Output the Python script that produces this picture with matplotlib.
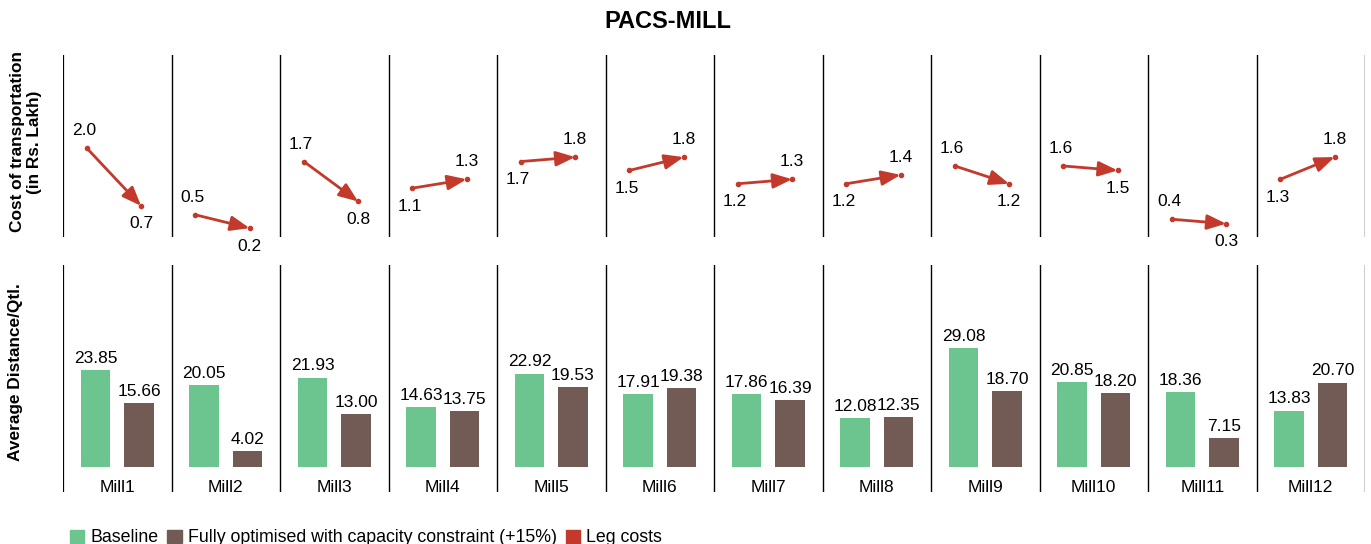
import matplotlib
matplotlib.use("Agg")
import matplotlib.pyplot as plt
from matplotlib.patches import Patch

# data
mills = ["Mill1", "Mill2", "Mill3", "Mill4", "Mill5", "Mill6",
         "Mill7", "Mill8", "Mill9", "Mill10", "Mill11", "Mill12"]
cost_baseline = [2.0, 0.5, 1.7, 1.1, 1.7, 1.5, 1.2, 1.2, 1.6, 1.6, 0.4, 1.3]
cost_optimised = [0.7, 0.2, 0.8, 1.3, 1.8, 1.8, 1.3, 1.4, 1.2, 1.5, 0.3, 1.8]
dist_baseline = [23.85, 20.05, 21.93, 14.63, 22.92, 17.91,
                 17.86, 12.08, 29.08, 20.85, 18.36, 13.83]
dist_optimised = [15.66, 4.02, 13.00, 13.75, 19.53, 19.38,
                  16.39, 12.35, 18.70, 18.20, 7.15, 20.70]

GREEN = "#6cc48e"
BROWN = "#725b54"
RED = "#c3392b"
FS = 12.5

plt.rcParams["font.family"] = ["Liberation Sans", "DejaVu Sans"]

fig = plt.figure(figsize=(13.71, 5.44), dpi=100)
left, right = 63 / 1371, 1365 / 1371
ax_top = fig.add_axes([left, 1 - 237 / 544, right - left, (237 - 55) / 544])
ax_bot = fig.add_axes([left, 1 - 492 / 544, right - left, (492 - 265) / 544])

n = len(mills)
for ax in (ax_top, ax_bot):
    ax.set_xlim(0, n)
    for s in ax.spines.values():
        s.set_visible(False)
    ax.set_xticks([])
    ax.set_yticks([])
    for i in range(n + 1):
        ax.axvline(i, color="black", lw=1.6 if i == 0 else 1.0)

# top row: leg cost arrows
ax_top.set_ylim(0, 4.1)
x0, x1 = 0.22, 0.72
for i in range(n):
    a, b = cost_baseline[i], cost_optimised[i]
    ax_top.annotate("", xy=(i + x1, b), xytext=(i + x0, a),
                    arrowprops=dict(arrowstyle="-|>,head_length=1.15,head_width=0.45",
                                    color=RED, lw=2.0, shrinkA=0, shrinkB=0))
    ax_top.plot([i + x0, i + x1], [a, b], "o", color=RED, ms=3, zorder=3)
    off_a = 12.5 if a > b else -13
    off_b = 12.5 if b > a else -13
    ax_top.annotate(f"{a:.1f}", (i + x0, a), xytext=(-2, off_a),
                    textcoords="offset points", ha="center", va="center", fontsize=FS)
    ax_top.annotate(f"{b:.1f}", (i + x1, b), xytext=(0, off_b),
                    textcoords="offset points", ha="center", va="center", fontsize=FS)

# bottom row: average distance bars
ax_bot.set_ylim(-6.1, 49.5)
w = 0.27
xs = range(n)
ax_bot.bar([i + 0.3 for i in xs], dist_baseline, width=w, color=GREEN)
ax_bot.bar([i + 0.7 for i in xs], dist_optimised, width=w, color=BROWN)
for i in xs:
    ax_bot.annotate(f"{dist_baseline[i]:.2f}", (i + 0.3, dist_baseline[i]),
                    xytext=(0, 3), textcoords="offset points",
                    ha="center", va="bottom", fontsize=FS)
    ax_bot.annotate(f"{dist_optimised[i]:.2f}", (i + 0.7, dist_optimised[i]),
                    xytext=(0, 3), textcoords="offset points",
                    ha="center", va="bottom", fontsize=FS)
    ax_bot.text(i + 0.5, -4.9, mills[i], ha="center", va="center", fontsize=FS)

fig.text(668 / 1371, 1 - 22 / 544, "PACS-MILL", ha="center", va="center",
         fontsize=17, fontweight="bold")
fig.text(26 / 1371, 1 - 142 / 544, "Cost of transportation\n(in Rs. Lakh)",
         rotation=90, ha="center", va="center", fontsize=12.4,
         fontweight="bold", linespacing=1.1)
fig.text(16 / 1371, 1 - 372 / 544, "Average Distance/Qtl.",
         rotation=90, ha="center", va="center", fontsize=12.4, fontweight="bold")

handles = [Patch(color=GREEN), Patch(color=BROWN), Patch(color=RED)]
labels = ["Baseline", "Fully optimised with capacity constraint (+15%)", "Leg costs"]
fig.legend(handles, labels, loc="center left", ncol=3, frameon=False,
           bbox_to_anchor=(70 / 1371, 1 - 538 / 544), fontsize=12.8,
           handlelength=0.8, handleheight=0.8, handletextpad=0.35,
           columnspacing=0.5, borderpad=0, borderaxespad=0)

fig.savefig("out.png", dpi=100)
